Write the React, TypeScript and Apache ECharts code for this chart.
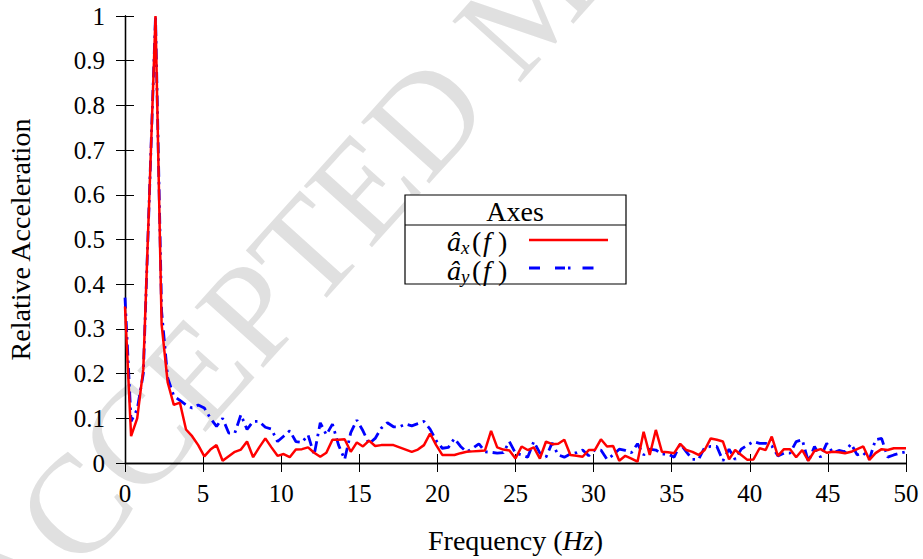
import React, { useEffect, useRef } from "react";
import * as echarts from "echarts";

// FFT bin count over 0..50 Hz (129 bins, resolution 50/128 Hz)
const binCount = 128;
const maxFreq = 50;

const xTicks = [0, 5, 10, 15, 20, 25, 30, 35, 40, 45, 50];
const yTicks = [0, 0.1, 0.2, 0.3, 0.4, 0.5, 0.6, 0.7, 0.8, 0.9, 1];

const axValues = [
  0.35, 0.06, 0.10, 0.21, 0.60, 1.00, 0.31, 0.18, 0.13, 0.135,
  0.075, 0.06, 0.04, 0.015, 0.03, 0.04, 0.005, 0.015, 0.025, 0.03,
  0.048, 0.013, 0.035, 0.055, 0.035, 0.016, 0.02, 0.013, 0.03, 0.031,
  0.035, 0.023, 0.014, 0.023, 0.052, 0.052, 0.053, 0.025, 0.046, 0.037,
  0.05, 0.038, 0.04, 0.04, 0.04, 0.035, 0.03, 0.025, 0.03, 0.04,
  0.066, 0.04, 0.018, 0.018, 0.018, 0.022, 0.025, 0.026, 0.027, 0.028,
  0.072, 0.035, 0.03, 0.028, 0.01, 0.037, 0.029, 0.035, 0.01, 0.048,
  0.042, 0.043, 0.052, 0.018, 0.016, 0.014, 0.029, 0.029, 0.053, 0.037,
  0.038, 0.005, 0.016, 0.01, 0.003, 0.07, 0.018, 0.074, 0.025, 0.024,
  0.022, 0.043, 0.029, 0.025, 0.018, 0.029, 0.055, 0.052, 0.048, 0.008,
  0.029, 0.018, 0.007, 0.008, 0.033, 0.029, 0.059, 0.016, 0.031, 0.031,
  0.013, 0.029, 0.005, 0.027, 0.031, 0.023, 0.025, 0.024, 0.022, 0.025,
  0.031, 0.037, 0.007, 0.022, 0.031, 0.029, 0.033, 0.033, 0.033,
];

const ayValues = [
  0.37, 0.093, 0.12, 0.20, 0.60, 1.00, 0.34, 0.19, 0.15, 0.14,
  0.13, 0.123, 0.13, 0.123, 0.10, 0.082, 0.10, 0.067, 0.067, 0.108,
  0.075, 0.093, 0.093, 0.08, 0.076, 0.048, 0.06, 0.072, 0.048, 0.046,
  0.063, 0.018, 0.09, 0.063, 0.087, 0.04, 0.008, 0.068, 0.096, 0.072,
  0.043, 0.055, 0.078, 0.09, 0.081, 0.081, 0.087, 0.083, 0.088, 0.093,
  0.076, 0.05, 0.033, 0.035, 0.055, 0.037, 0.025, 0.033, 0.043, 0.025,
  0.024, 0.022, 0.023, 0.048, 0.022, 0.018, 0.013, 0.048, 0.022, 0.013,
  0.045, 0.018, 0.013, 0.02, 0.023, 0.029, 0.016, 0.029, 0.029, 0.008,
  0.018, 0.031, 0.028, 0.023, 0.043, 0.018, 0.031, 0.029, 0.02, 0.02,
  0.013, 0.043, 0.025, 0.008, 0.008, 0.035, 0.037, 0.037, 0.005, 0.031,
  0.008, 0.031, 0.04, 0.048, 0.044, 0.044, 0.038, 0.016, 0.022, 0.022,
  0.048, 0.052, 0.003, 0.037, 0.013, 0.044, 0.023, 0.028, 0.025, 0.043,
  0.018, 0.023, 0.008, 0.052, 0.055, 0.013, 0.018, 0.022, 0.025,
];

const serif = "Liberation Serif";

function toPairs(vals: number[]) {
  return vals.map((v, i) => [(i * maxFreq) / binCount, v]);
}

function txt(x: number, y: number, text: string, size: number, italic: boolean, extra: any = {}) {
  return {
    type: "text",
    x, y, z: 12,
    silent: true,
    style: {
      text,
      fontFamily: serif,
      fontSize: size,
      fontStyle: italic ? "italic" : "normal",
      fill: "#000",
      textVerticalAlign: "middle",
      ...extra,
    },
  };
}

export default function App() {
  const ref = useRef<HTMLDivElement>(null);
  useEffect(() => {
    if (!ref.current) return;
    const chart = echarts.init(ref.current, undefined, { renderer: "svg" });
    const axisCommon = {
      type: "value" as const,
      axisLine: { show: true, lineStyle: { color: "#000", width: 1.3 } },
      axisTick: { show: true, inside: true, length: 9, lineStyle: { color: "#000", width: 1 } },
      splitLine: { show: false },
    };
    const legendX = 405, legendY = 195, legendW = 221, legendH = 89;
    const mathLabel = (x: number, y: number, sub: string) => [
      txt(x, y, "â", 28, true),
      txt(x + 14, y + 6, sub, 19, true),
      txt(x + 25, y, "(", 28, false),
      txt(x + 36, y, "f", 28, true),
      txt(x + 51, y, ")", 28, false),
    ];
    chart.setOption({
      animation: false,
      backgroundColor: "#fff",
      grid: { left: 125, right: 17, top: 16, bottom: 96, containLabel: false, outerBoundsMode: "none" },
      xAxis: [
        {
          ...axisCommon,
          min: 0, max: 50, interval: 5,
          axisLabel: { show: true, margin: 18, color: "#000", fontSize: 25, fontFamily: serif,
            formatter: (v: number) => (xTicks.includes(v) ? String(v) : "") },
          name: "{n|Frequency (}{i|Hz}{n|)}",
          nameLocation: "middle",
          nameGap: 63,
          nameTextStyle: {
            rich: {
              n: { fontSize: 28, fontFamily: serif, color: "#000" },
              i: { fontSize: 28, fontFamily: serif, fontStyle: "italic", color: "#000" },
            },
          },
        },
        {
          ...axisCommon,
          position: "top",
          min: 0, max: 50, interval: 5,
          axisLabel: { show: false },
        },
      ],
      yAxis: [
        {
          ...axisCommon,
          min: 0, max: 1, interval: 0.1,
          axisLabel: { show: true, margin: 20, color: "#000", fontSize: 25, fontFamily: serif,
            formatter: (v: number) => {
              const t = yTicks.find((y) => Math.abs(y - v) < 1e-6);
              return t === undefined ? "" : String(t);
            } },
          name: "Relative Acceleration",
          nameLocation: "middle",
          nameGap: 91,
          nameTextStyle: { fontSize: 28, fontFamily: serif, color: "#000" },
        },
        {
          ...axisCommon,
          position: "right",
          min: 0, max: 1, interval: 0.1,
          axisLabel: { show: false },
        },
      ],
      series: [
        {
          type: "line",
          data: toPairs(ayValues),
          showSymbol: false,
          symbol: "none",
          lineStyle: { color: "#0000ff", width: 2.8, type: [11, 5, 2.5, 5] },
          z: 3,
        },
        {
          type: "line",
          data: toPairs(axValues),
          showSymbol: false,
          symbol: "none",
          lineStyle: { color: "#ff0000", width: 2.5 },
          z: 4,
        },
      ],
      graphic: [
        {
          type: "text",
          x: 27,
          y: 664,
          rotation: (48 * Math.PI) / 180,
          z: -10,
          silent: true,
          style: {
            text: "ACCEPTED MANUSCRIPT",
            fontFamily: serif,
            fontSize: 140,
            fill: "#e0e0e0",
            textVerticalAlign: "bottom",
          },
        },
        {
          type: "rect",
          z: 10,
          shape: { x: legendX, y: legendY, width: legendW, height: legendH },
          style: { fill: "#fff", stroke: "#000", lineWidth: 1.2 },
        },
        {
          type: "line",
          z: 11,
          shape: { x1: legendX, y1: 225, x2: legendX + legendW, y2: 225 },
          style: { stroke: "#000", lineWidth: 1.2 },
        },
        txt(515, 211, "Axes", 28, false, { textAlign: "center" }),
        ...mathLabel(447, 241, "x"),
        ...mathLabel(447, 270, "y"),
        {
          type: "line",
          z: 11,
          shape: { x1: 529, y1: 240, x2: 608, y2: 240 },
          style: { stroke: "#ff0000", lineWidth: 2.5 },
        },
        {
          type: "line",
          z: 11,
          shape: { x1: 529, y1: 268, x2: 608, y2: 268 },
          style: { stroke: "#0000ff", lineWidth: 2.8, lineDash: [11, 15, 10, 3, 2.5, 12] },
        },
      ],
    });
    return () => chart.dispose();
  }, []);
  return <div ref={ref} style={{ width: 923, height: 559, position: "absolute", left: 0, top: 0 }} />;
}
